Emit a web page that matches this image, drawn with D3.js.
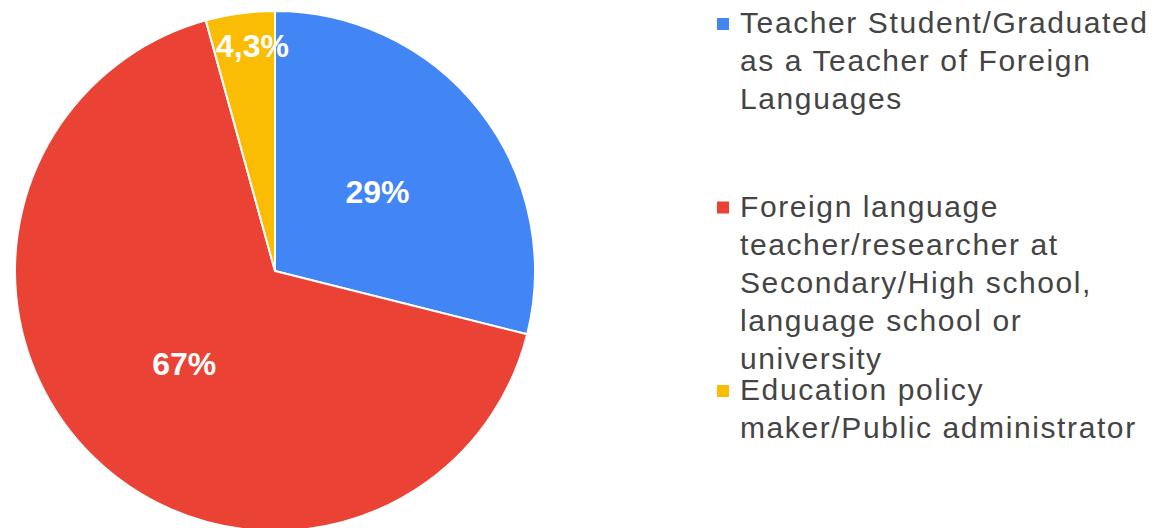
<!DOCTYPE html>
<html>
<head>
<meta charset="utf-8">
<script src="https://cdn.jsdelivr.net/npm/d3@7"></script>
<style>
  html, body { margin: 0; padding: 0; background: #ffffff; }
  svg { display: block; }
</style>
</head>
<body>
<svg id="chart" width="1156" height="528"></svg>
<script>
const categories = [
  ["Teacher Student/Graduated", "as a Teacher of Foreign", "Languages"],
  ["Foreign language", "teacher/researcher at", "Secondary/High school,", "language school or", "university"],
  ["Education policy", "maker/Public administrator"]
];
const values = [29, 67, 4.3];
const valueLabels = ["29%", "67%", "4,3%"];
const colors = ["#4285F4", "#EA4335", "#FBBC04"];

const svg = d3.select("#chart");
const cx = 275, cy = 271, R = 260;

const pie = d3.pie().sort(null).value(d => d);
const arcs = pie(values);
const arc = d3.arc().innerRadius(0).outerRadius(R);

const g = svg.append("g").attr("transform", `translate(${cx},${cy})`);
g.selectAll("path.slice")
  .data(arcs)
  .enter().append("path")
  .attr("class", "slice")
  .attr("d", arc)
  .attr("fill", (d, i) => colors[i])
  .attr("stroke", "#ffffff")
  .attr("stroke-width", 2)
  .attr("stroke-linejoin", "round");

const labelArcMid = d3.arc().innerRadius(R * 0.5).outerRadius(R * 0.5);
const labelArcOuter = d3.arc().innerRadius(R * 0.875).outerRadius(R * 0.875);
g.selectAll("text.val")
  .data(arcs)
  .enter().append("text")
  .attr("class", "val")
  .attr("transform", d => {
    const frac = (d.endAngle - d.startAngle) / (2 * Math.PI);
    const c = (frac < 0.1 ? labelArcOuter : labelArcMid).centroid(d);
    return `translate(${c[0] + (frac < 0.1 ? 8 : 0)},${c[1]})`;
  })
  .attr("dy", 11.5)
  .attr("text-anchor", "middle")
  .attr("font-family", "'Liberation Sans', Arial, sans-serif")
  .attr("font-weight", "bold")
  .attr("font-size", 32)
  .attr("fill", "#ffffff")
  .text((d, i) => valueLabels[i]);

// Legend
const legend = svg.append("g");
const itemY = d3.scaleLinear().domain([0, 1]).range([33, 216.5]);
const lineH = 38;
categories.forEach((lines, i) => {
  const y0 = itemY(i);
  legend.append("rect")
    .attr("x", 717).attr("y", y0 - 15)
    .attr("width", 12).attr("height", 12)
    .attr("fill", colors[i]);
  const t = legend.append("text")
    .attr("x", 740).attr("y", y0)
    .attr("font-family", "'Liberation Sans', Arial, sans-serif")
    .attr("font-size", 30)
    .attr("letter-spacing", "1.6px")
    .attr("fill", "#444444");
  lines.forEach((ln, j) => {
    t.append("tspan").attr("x", 740).attr("y", y0 + j * lineH).text(ln);
  });
});
</script>
</body>
</html>
